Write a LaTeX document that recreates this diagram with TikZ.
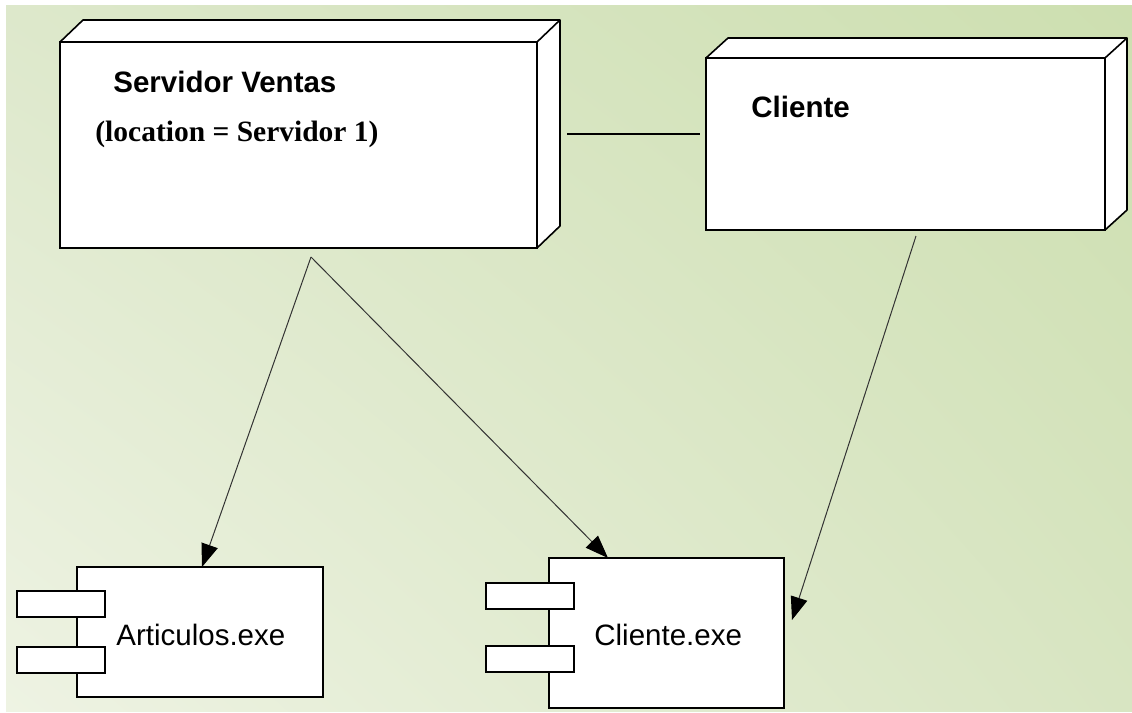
\documentclass[tikz,border=0pt]{standalone}
\usepackage{fontspec}
\setmainfont{Liberation Serif}
\setsansfont{Liberation Sans}
\usetikzlibrary{positioning, arrows.meta, shadings}
\definecolor{bgTL}{HTML}{DDE8CB}
\definecolor{bgTR}{HTML}{CDDFB0}
\definecolor{bgBL}{HTML}{EEF3E3}
\definecolor{bgBR}{HTML}{D8E5C2}
\tikzset{
	nodebox/.style={draw, line width=1pt, fill=white, inner sep=0pt, outer sep=0pt},
	faces/.style={draw, line width=0.8pt, fill=white, line join=round},
	compbox/.style={draw, line width=1pt, fill=white, inner sep=0pt, outer sep=0pt},
	portbox/.style={compbox, minimum width=44pt, minimum height=13pt},
	nodetitle/.style={inner sep=0pt, anchor=base west, font=\sffamily\bfseries\fontsize{14.75}{17}\selectfont},
	nodeprop/.style={inner sep=0pt, anchor=base west, font=\rmfamily\bfseries\fontsize{14.75}{17}\selectfont},
	complabel/.style={inner sep=0pt, anchor=base west, font=\sffamily\fontsize{14.75}{17}\selectfont},
	dep/.style={-{Triangle[length=11.5pt,width=8.5pt,color=black]}, line width=0.5pt, black!80},
	link/.style={line width=1pt}
}

\begin{document}
\begin{tikzpicture}[x=0.5pt, y=-0.5pt]

	\useasboundingbox (0,0) rectangle (1132,713);
	\shade[upper left=bgTL, upper right=bgTR, lower left=bgBL, lower right=bgBR] (6,5) rectangle (1132,711);

	% nodos
	\node[nodebox, minimum width=238.5pt, minimum height=103pt] (sv) at (298.5,145) {};
	\draw[faces] (sv.north west) -- ++(23,-22) -- ([shift={(23,-22)}]sv.north east) -- ([shift={(23,-22)}]sv.south east) -- (sv.south east) -- (sv.north east) -- cycle;
	\draw[line width=0.8pt] (sv.north east) -- ++(23,-22);
	\node[nodetitle] (svname) at (113,92) {Servidor Ventas};
	\node[nodeprop] (svloc) at (95,141) {(location = Servidor 1)};

	\node[nodebox, minimum width=199.5pt, minimum height=86pt] (cl) at (905.5,144) {};
	\draw[faces] (cl.north west) -- ++(22,-20) -- ([shift={(22,-20)}]cl.north east) -- ([shift={(22,-20)}]cl.south east) -- (cl.south east) -- (cl.north east) -- cycle;
	\draw[line width=0.8pt] (cl.north east) -- ++(22,-20);
	\node[nodetitle] (clname) at (751,117) {Cliente};

	% componentes
	\node[compbox, minimum width=123pt, minimum height=65pt] (art) at (200,632) {};
	\node[portbox] (artp1) at ([shift={(-16.5,-28)}]art.west) {};
	\node[portbox] (artp2) at ([shift={(-16.5,28)}]art.west) {};
	\node[complabel] (artname) at ([shift={(39,13)}]art.west) {Articulos.exe};

	\node[compbox, minimum width=117.5pt, minimum height=75pt] (clexe) at (666.5,633) {};
	\node[portbox] (clexep1) at ([shift={(-19,-37.5)}]clexe.west) {};
	\node[portbox] (clexep2) at ([shift={(-19,25.5)}]clexe.west) {};
	\node[complabel] (clexename) at ([shift={(45,12)}]clexe.west) {Cliente.exe};

	% conexiones
	\coordinate (svtap) at (311,257);
	\coordinate (cltap) at (916,236);
	\draw[link] ([shift={(30,-11)}]sv.east) -- ([shift={(-6,-10)}]cl.west);
	\draw[dep] (svtap) -- ([shift={(2,0)}]art.north);
	\draw[dep] (svtap) -- ([shift={(-58.5,0)}]clexe.north);
	\draw[dep] (cltap) -- ([shift={(8,-13)}]clexe.east);

\end{tikzpicture}
\end{document}
